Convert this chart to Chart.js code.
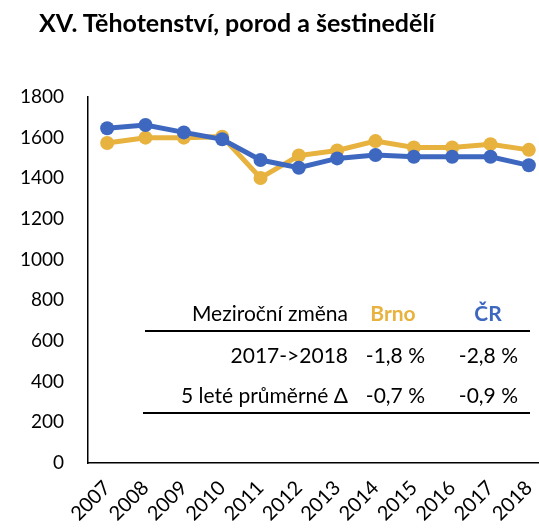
<!DOCTYPE html>
<html>
<head>
<meta charset="utf-8">
<script src="https://cdn.jsdelivr.net/npm/chart.js@4/dist/chart.umd.min.js"></script>
<style>
  body { margin: 0; overflow: hidden; background: #fff; font-family: Lato, "Noto Sans", sans-serif; }
  #wrap { position: relative; width: 560px; height: 528px; }
  #c { position: absolute; left: 0; top: 0; }
  .t { position: absolute; white-space: nowrap; font-size: 21px; line-height: 24px; color: #000; }
  .r { text-align: right; }
  .c { text-align: center; }
  .rule { position: absolute; height: 2px; background: #000; }
  #title { position: absolute; left: 39px; top: 6px; font-size: 25px; line-height: 32px; font-weight: bold; white-space: nowrap; }
</style>
</head>
<body>
<div id="wrap">
  <canvas id="c" width="560" height="528"></canvas>
  <div id="title">XV. Těhotenství, porod a šestinedělí</div>
  <div id="tbl"></div>
</div>
<script>
// chart data
const years = ['2007', '2008', '2009', '2010', '2011', '2012', '2013', '2014', '2015', '2016', '2017', '2018'];
const brno = [1574, 1600, 1600, 1605, 1402, 1512, 1537, 1583, 1552, 1552, 1568, 1540];
const cr = [1646, 1662, 1626, 1592, 1490, 1452, 1498, 1515, 1506, 1506, 1506, 1464];

// table data
const tableHead = ['Meziroční změna', 'Brno', 'ČR'];
const rowLabels = ['2017->2018', '5 leté průměrné Δ'];
const brnoChange = ['-1,8 %', '-0,7 %'];
const crChange = ['-2,8 %', '-0,9 %'];

const orange = '#E8B23F';
const blue = '#3E68C0';
const font = 'Lato, "Noto Sans", sans-serif';

// build the little table on top of the chart
const tbl = document.getElementById('tbl');
function addText(txt, cls, left, top, width, color, bold) {
    const d = document.createElement('div');
    d.className = 't ' + cls;
    d.textContent = txt;
    d.style.left = left + 'px';
    d.style.top = top + 'px';
    d.style.width = width + 'px';
    if (color) d.style.color = color;
    if (bold) d.style.fontWeight = 'bold';
    tbl.appendChild(d);
}
function addRule(left, top, width) {
    const d = document.createElement('div');
    d.className = 'rule';
    d.style.left = left + 'px';
    d.style.top = top + 'px';
    d.style.width = width + 'px';
    tbl.appendChild(d);
}
addText(tableHead[0], 'r', 128, 301, 220);
addText(tableHead[1], 'c', 353, 301, 80, orange, true);
addText(tableHead[2], 'c', 448, 301, 80, blue, true);
addRule(145, 330, 385);
const rowTops = [343, 383];
rowLabels.forEach((lab, i) => {
    addText(lab, 'r', 128, rowTops[i], 220);
    addText(brnoChange[i], 'r', 335, rowTops[i], 90);
    addText(crChange[i], 'r', 428, rowTops[i], 90);
});
addRule(143, 412, 387);

const ctx = document.getElementById('c').getContext('2d');
const chart = new Chart(ctx, {
    type: 'line',
    data: {
        labels: years,
        datasets: [
            {
                label: 'ČR',
                data: cr,
                borderColor: blue,
                backgroundColor: blue,
                borderWidth: 5,
                pointRadius: 7,
                pointBorderWidth: 0,
                tension: 0
            },
            {
                label: 'Brno',
                data: brno,
                borderColor: orange,
                backgroundColor: orange,
                borderWidth: 5,
                pointRadius: 7,
                pointBorderWidth: 0,
                tension: 0
            }
        ]
    },
    options: {
        responsive: false,
        animation: false,
        layout: { padding: { top: 97, right: 12, left: 0, bottom: 0 } },
        plugins: { legend: { display: false }, tooltip: { enabled: false }, title: { display: false } },
        scales: {
            x: {
                offset: true,
                grid: { display: false, drawTicks: false },
                border: { color: '#000', width: 1.5 },
                ticks: { color: '#000', font: { family: font, size: 20 }, minRotation: 45, maxRotation: 45, padding: 13 },
                afterFit(s) { s.height = 65; }
            },
            y: {
                min: 0,
                max: 1800,
                grid: { display: false, drawTicks: false },
                border: { color: '#000', width: 1.5 },
                ticks: {
                    stepSize: 200, color: '#000', font: { family: font, size: 19 }, padding: 24,
                    callback: v => String(v)
                },
                afterFit(s) { s.width = 88; }
            }
        }
    }
});
</script>
</body>
</html>
